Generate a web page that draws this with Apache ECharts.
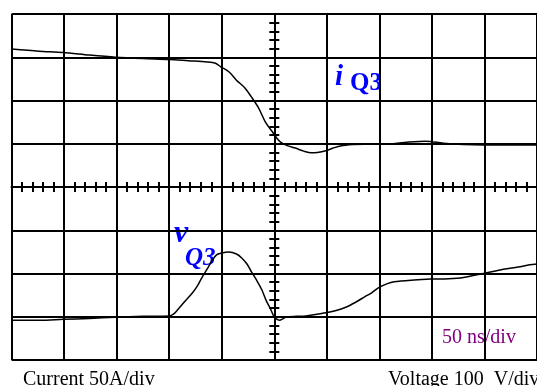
<!DOCTYPE html>
<html>
<head>
<meta charset="utf-8">
<script src="https://cdn.jsdelivr.net/npm/echarts@6/dist/echarts.min.js"></script>
<style>
  html, body { margin: 0; padding: 0; background: #fff; }
  #main { width: 537px; height: 386px; }
</style>
</head>
<body>
<div id="main"></div>
<script>
  // time in ns, 0 = centre graticule (50 ns/div); amplitudes in divisions
  var tCurrent = [-250, -224, -201, -176, -151, -125, -100, -82, -64, -56, -51, -43, -36, -28, -22, -15, -8, -1,
    3, 7, 13, 20, 28, 35, 41, 49, 56, 63, 75, 86, 105, 124, 144, 161, 180, 199, 222, 243, 250];
  var iQ3 = [3.19, 3.14, 3.11, 3.05, 3.00, 2.97, 2.95, 2.92, 2.89, 2.86, 2.78, 2.66, 2.47, 2.29, 2.09, 1.83, 1.48, 1.25,
    1.11, 1.02, 0.95, 0.90, 0.83, 0.79, 0.80, 0.84, 0.90, 0.95, 0.98, 0.99, 0.99, 1.03, 1.06, 1.01, 0.98, 0.97, 0.97, 0.97, 0.97];

  var tVoltage = [-250, -223, -201, -176, -151, -125, -100, -96, -92, -85, -78, -73, -69, -64, -59, -55, -51, -43, -36, -31,
    -26, -22, -17, -12, -8, -4, -1, 2, 5, 8, 11, 21, 30, 39, 49, 58, 68, 77, 86, 93, 99, 107, 114, 133, 149, 166, 180,
    199, 218, 232, 243, 250];
  var vQ3 = [-3.08, -3.08, -3.06, -3.04, -3.01, -2.99, -2.98, -2.94, -2.84, -2.64, -2.45, -2.28, -2.10, -1.90, -1.69, -1.57,
    -1.53, -1.50, -1.55, -1.64, -1.78, -1.95, -2.15, -2.37, -2.61, -2.80, -2.96, -3.05, -3.08, -3.05, -3.01, -2.99, -2.98,
    -2.95, -2.91, -2.86, -2.78, -2.67, -2.54, -2.44, -2.33, -2.24, -2.19, -2.15, -2.13, -2.12, -2.09, -2.00, -1.90, -1.85,
    -1.80, -1.78];

  function pairs(t, v) {
    var out = [];
    for (var i = 0; i < t.length; i++) out.push([t[i], v[i]]);
    return out;
  }

  var black = '#000';
  var serif = '"Liberation Serif", "DejaVu Serif", serif';

  // graticule: plain split lines + two tick axes through the centre
  function gridAxis(min, max, step, pos) {
    return {
      type: 'value', min: min, max: max, interval: step, position: pos,
      axisLine: { show: false }, axisTick: { show: false }, axisLabel: { show: false },
      splitLine: { show: true, lineStyle: { color: black, width: 2 } }
    };
  }
  function centreAxis(min, max, step, pos) {
    return {
      type: 'value', min: min, max: max, interval: step, position: pos,
      axisLine: { show: true, onZero: true, lineStyle: { color: black, width: 2 } },
      axisTick: { show: true, length: 5, lineStyle: { color: black, width: 2 } },
      axisLabel: { show: false }, splitLine: { show: false }
    };
  }

  var chart = echarts.init(document.getElementById('main'));
  chart.setOption({
    animation: false,
    backgroundColor: '#fff',
    grid: { left: 11.6, right: -6.8, top: 14, bottom: 26 },
    xAxis: [
      gridAxis(-250, 250, 50, 'bottom'),
      centreAxis(-250, 250, 10, 'bottom'),
      centreAxis(-250, 250, 10, 'top')
    ],
    yAxis: [
      gridAxis(-4, 4, 1, 'left'),
      centreAxis(-4, 4, 0.2, 'left'),
      centreAxis(-4, 4, 0.2, 'right')
    ],
    series: [{
      name: 'iQ3', type: 'line', data: pairs(tCurrent, iQ3),
      showSymbol: false, smooth: 0.3,
      lineStyle: { color: black, width: 1.5 }
    }, {
      name: 'vQ3', type: 'line', data: pairs(tVoltage, vQ3),
      showSymbol: false, smooth: 0.3,
      lineStyle: { color: black, width: 1.5 }
    }],
    graphic: [
      { type: 'text', left: 335, top: 63, style: { text: 'i', fill: '#0000ff', font: 'italic bold 29px ' + serif } },
      { type: 'text', left: 350, top: 71, style: { text: 'Q3', fill: '#0000ff', font: 'bold 25px ' + serif } },
      { type: 'text', left: 174, top: 218, style: { text: 'v', fill: '#0000ff', font: 'italic bold 32px ' + serif } },
      { type: 'text', left: 185, top: 246, style: { text: 'Q3', fill: '#0000ff', font: 'italic bold 25px ' + serif } },
      { type: 'text', left: 442, top: 328, style: { text: '50 ns/div', fill: '#800080', font: '20px ' + serif } },
      { type: 'text', left: 23, top: 370, style: { text: 'Current 50A/div', fill: black, font: '20px ' + serif } },
      { type: 'text', left: 388, top: 370, style: { text: 'Voltage 100  V/div', fill: black, font: '20px ' + serif } }
    ]
  });
</script>
</body>
</html>
